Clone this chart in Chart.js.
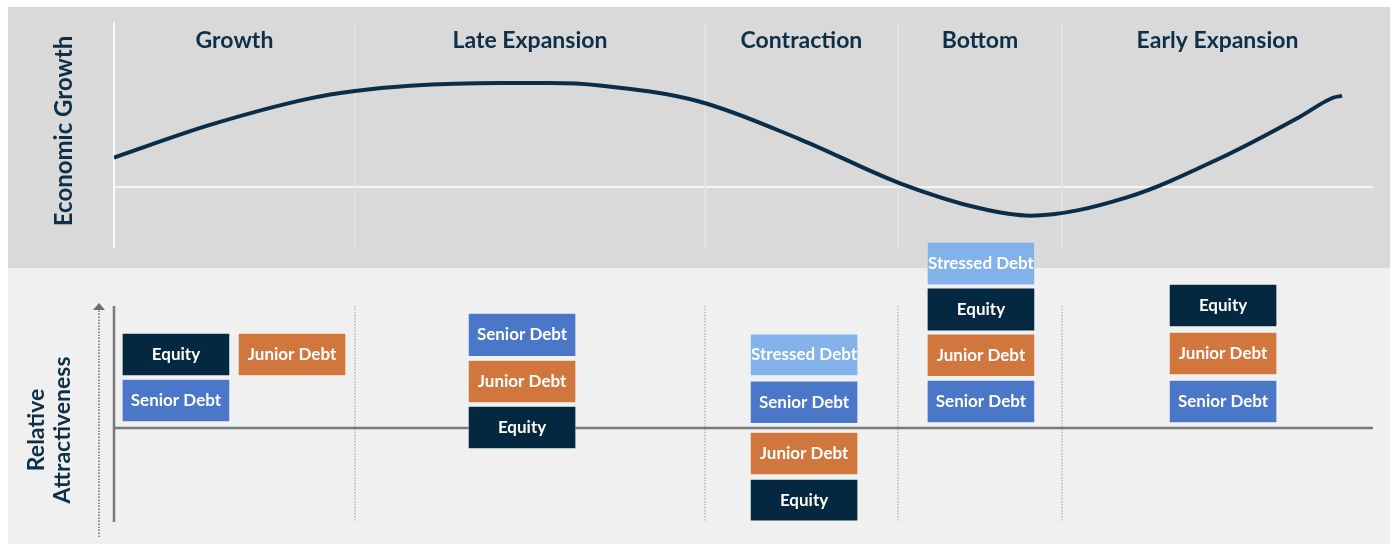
<!DOCTYPE html>
<html>
<head>
<meta charset="utf-8">
<script src="https://cdn.jsdelivr.net/npm/chart.js@4/dist/chart.umd.min.js"></script>
<style>
  body { margin: 0; background: #fff; width: 1400px; height: 544px; overflow: hidden; position: relative; }
  .panel { position: absolute; left: 8px; width: 1382px; }
  #topBg { top: 7px; height: 261px; background: #d9d9d9; }
  #bottomBg { top: 268px; height: 276px; background: #f0f0f0; }
  canvas { position: absolute; left: 0; }
  #growthChart { top: 0; }
  #assetChart { top: 230px; }
</style>
</head>
<body>
<div class="panel" id="topBg"></div>
<div class="panel" id="bottomBg"></div>
<canvas id="growthChart" width="1400" height="268"></canvas>
<canvas id="assetChart" width="1400" height="314"></canvas>
<script>
// cycle position (0-100) and economic growth index
const cyclePos = [0, 7.62, 15.57, 19.14, 23.51, 30.66, 34.63, 38.6, 46.54, 54.49, 62.43, 68.78, 72.76, 80.46, 87.85, 94.2, 96.82, 97.54];
const growth = [0.96, 2.03, 2.9, 3.14, 3.31, 3.4, 3.4, 3.32, 2.79, 1.56, 0.12, -0.7, -0.94, -0.34, 0.94, 2.3, 2.92, 2.98];

const phases = ['Growth', 'Late Expansion', 'Contraction', 'Bottom', 'Early Expansion'];
const phaseBounds = [0, 19.14, 46.94, 62.27, 75.3, 100];

// relative attractiveness boxes: x = position in cycle, y = [low, high]
const equityX = [4.92, 32.41, 54.81, 68.86, 88.09];
const equityY = [[1.12, 2.04], [-0.45, 0.47], [-2.0, -1.1], [2.08, 3.01], [2.17, 3.09]];
const seniorX = [4.92, 32.41, 54.81, 68.86, 88.09];
const seniorY = [[0.13, 1.05], [1.53, 2.47], [0.09, 1.01], [0.11, 1.03], [0.11, 1.03]];
const juniorX = [14.14, 32.41, 54.81, 68.86, 88.09];
const juniorY = [[1.12, 2.04], [0.54, 1.46], [-1.01, -0.09], [1.10, 2.02], [1.14, 2.06]];
const stressedX = [54.81, 68.86];
const stressedY = [[1.12, 2.02], [3.07, 4.0]];

const navy = '#0d2f48';
const FONT = 'Lato, "Open Sans", sans-serif';

function points(xs, ys) {
  return xs.map((x, i) => ({ x: x, y: ys[i] }));
}

const topDecor = {
  id: 'topDecor',
  beforeDatasetsDraw(chart) {
    const { ctx, chartArea: a, scales: { x, y } } = chart;
    ctx.save();
    // zero growth line
    ctx.strokeStyle = '#ffffff';
    ctx.lineWidth = 1.5;
    ctx.beginPath();
    ctx.moveTo(a.left, y.getPixelForValue(0));
    ctx.lineTo(a.right, y.getPixelForValue(0));
    ctx.stroke();
    // phase dividers
    phaseBounds.slice(0, -1).forEach((b, i) => {
      ctx.strokeStyle = i === 0 ? '#f7f7f7' : '#e4e4e4';
      ctx.lineWidth = i === 0 ? 2 : 1.5;
      const px = x.getPixelForValue(b);
      ctx.beginPath();
      ctx.moveTo(px, a.top);
      ctx.lineTo(px, a.bottom);
      ctx.stroke();
    });
    // phase labels
    ctx.fillStyle = navy;
    ctx.font = 'bold 23px ' + FONT;
    ctx.textAlign = 'center';
    ctx.textBaseline = 'middle';
    phases.forEach((p, i) => {
      const cx = x.getPixelForValue((phaseBounds[i] + phaseBounds[i + 1]) / 2);
      ctx.fillText(p, cx, a.top + 19);
    });
    // axis title
    ctx.translate(a.left - 50, (a.top + a.bottom) / 2 - 4);
    ctx.rotate(-Math.PI / 2);
    ctx.font = 'bold 24px ' + FONT;
    ctx.fillText('Economic Growth', 0, 0);
    ctx.restore();
  }
};

new Chart(document.getElementById('growthChart'), {
  type: 'line',
  data: {
    datasets: [{
      label: 'Economic Growth',
      data: points(cyclePos, growth),
      borderColor: '#0c2d47',
      borderWidth: 4,
      pointRadius: 0,
      cubicInterpolationMode: 'monotone',
      fill: false
    }]
  },
  options: {
    responsive: false,
    animation: false,
    layout: { padding: { left: 114, right: 27, top: 22, bottom: 20 } },
    scales: {
      x: { type: 'linear', min: 0, max: 100, display: false },
      y: { min: -2, max: 5.4, display: false }
    },
    plugins: { legend: { display: false }, tooltip: { enabled: false } }
  },
  plugins: [topDecor]
});

const bottomDecor = {
  id: 'bottomDecor',
  beforeDatasetsDraw(chart) {
    const { ctx, chartArea: a, scales: { x, y } } = chart;
    const zero = y.getPixelForValue(0);
    ctx.save();
    // dotted phase dividers
    ctx.strokeStyle = '#b8b8b8';
    ctx.lineWidth = 1.5;
    ctx.setLineDash([1.5, 1.5]);
    phaseBounds.slice(1, -1).forEach(b => {
      const px = x.getPixelForValue(b);
      ctx.beginPath();
      ctx.moveTo(px, a.top);
      ctx.lineTo(px, a.bottom);
      ctx.stroke();
    });
    // dotted arrow
    ctx.strokeStyle = '#6e6e6e';
    ctx.beginPath();
    ctx.moveTo(a.left - 15, a.bottom + 15);
    ctx.lineTo(a.left - 15, a.top + 4);
    ctx.stroke();
    ctx.setLineDash([]);
    ctx.fillStyle = '#6e6e6e';
    ctx.beginPath();
    ctx.moveTo(a.left - 15, a.top - 3);
    ctx.lineTo(a.left - 21, a.top + 4);
    ctx.lineTo(a.left - 9, a.top + 4);
    ctx.closePath();
    ctx.fill();
    // axes
    ctx.strokeStyle = '#7a7a7a';
    ctx.lineWidth = 2.5;
    ctx.beginPath();
    ctx.moveTo(a.left, a.top);
    ctx.lineTo(a.left, a.bottom);
    ctx.moveTo(a.left, zero);
    ctx.lineTo(a.right, zero);
    ctx.stroke();
    // axis title
    ctx.fillStyle = navy;
    ctx.font = 'bold 23px ' + FONT;
    ctx.textAlign = 'center';
    ctx.textBaseline = 'middle';
    ctx.translate(a.left - 64, zero + 2);
    ctx.rotate(-Math.PI / 2);
    ctx.fillText('Relative', 0, -13);
    ctx.fillText('Attractiveness', 0, 13);
    ctx.restore();
  },
  afterDatasetsDraw(chart) {
    const { ctx } = chart;
    ctx.save();
    ctx.fillStyle = '#ffffff';
    ctx.font = 'bold 17px ' + FONT;
    ctx.textAlign = 'center';
    ctx.textBaseline = 'middle';
    chart.data.datasets.forEach((ds, i) => {
      chart.getDatasetMeta(i).data.forEach(bar => {
        ctx.fillText(ds.label, bar.x, (bar.y + bar.base) / 2);
      });
    });
    ctx.restore();
  }
};

function boxSet(label, xs, ys, color) {
  return {
    label: label,
    data: points(xs, ys),
    backgroundColor: color,
    borderColor: 'rgba(255,255,255,0.35)',
    borderWidth: 1,
    borderSkipped: false,
    barThickness: 108,
    grouped: false,
    clip: false
  };
}

new Chart(document.getElementById('assetChart'), {
  type: 'bar',
  data: {
    datasets: [
      boxSet('Equity', equityX, equityY, '#03283f'),
      boxSet('Senior Debt', seniorX, seniorY, '#4a77c8'),
      boxSet('Junior Debt', juniorX, juniorY, '#d1773e'),
      boxSet('Stressed Debt', stressedX, stressedY, '#83b2ea')
    ]
  },
  options: {
    responsive: false,
    animation: false,
    layout: { padding: { left: 114, right: 27, top: 76, bottom: 22 } },
    scales: {
      x: { type: 'linear', min: 0, max: 100, offset: false, display: false },
      y: { min: -2.02, max: 2.62, display: false }
    },
    plugins: { legend: { display: false }, tooltip: { enabled: false } }
  },
  plugins: [bottomDecor]
});
</script>
</body>
</html>
